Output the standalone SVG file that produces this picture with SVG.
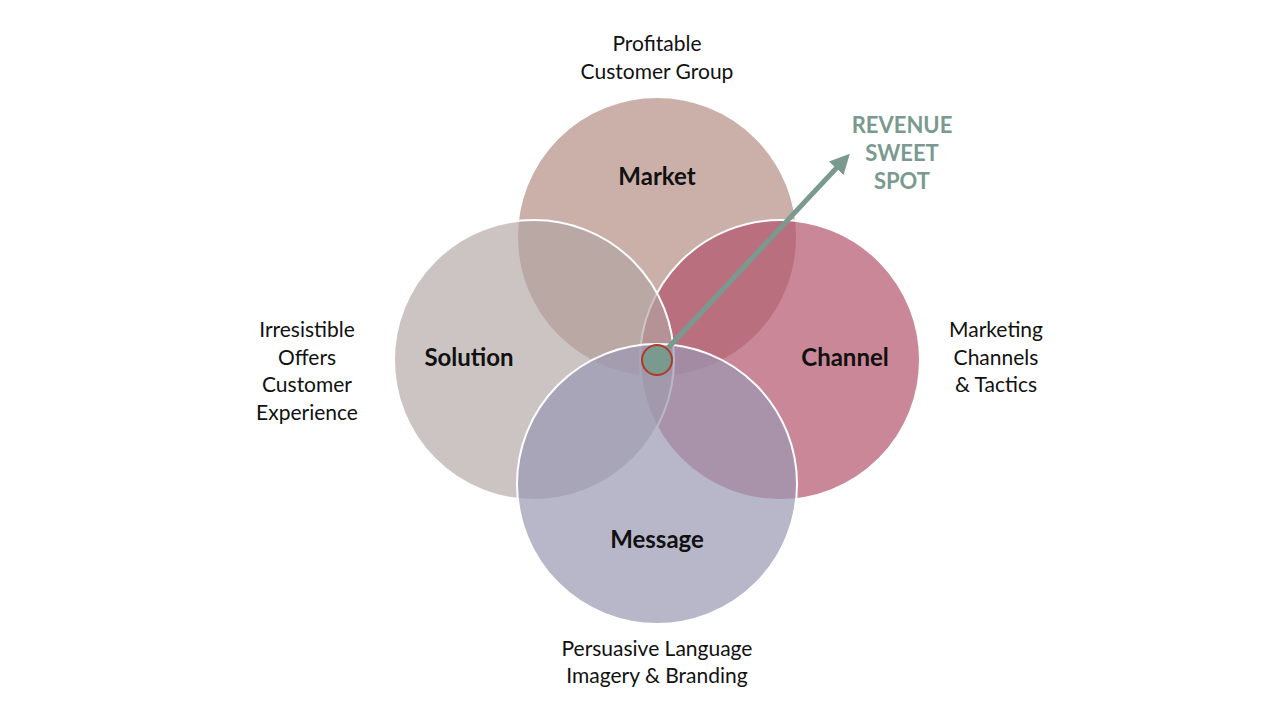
<svg xmlns="http://www.w3.org/2000/svg" width="1280" height="720" viewBox="0 0 1280 720">
<style>
.c{stroke:#fff;stroke-width:2}
.lbl{font-family:Lato,"Liberation Sans",sans-serif;font-size:24px;font-weight:bold;fill:#111;text-anchor:middle}
.d{font-family:Lato,"Liberation Sans",sans-serif;font-size:21px;fill:#111;text-anchor:middle}
.s{font-family:Lato,"Liberation Sans",sans-serif;font-size:22px;font-weight:bold;fill:#7a9a8f;text-anchor:middle}
</style>
<defs><marker id="ah" viewBox="0 0 10 10" refX="5" refY="5" markerWidth="4" markerHeight="4" orient="auto"><path d="M0,0L10,5L0,10z" fill="#7a9a8f"/></marker></defs>
<rect width="1280" height="720" fill="#fff"/>
<g id="market"><circle class="c" cx="657" cy="237" r="140" fill="#b48e84" fill-opacity="0.7"/><text class="lbl" x="657" y="185">Market</text></g>
<g id="channel"><circle class="c" cx="780" cy="360" r="140" fill="#b4546c" fill-opacity="0.7"/><text class="lbl" x="845" y="366">Channel</text></g>
<g id="solution"><circle class="c" cx="534" cy="360" r="140" fill="#b0a4a3" fill-opacity="0.65"/><text class="lbl" x="469" y="366">Solution</text></g>
<g id="message"><circle class="c" cx="657" cy="484" r="140" fill="#9a98b4" fill-opacity="0.7"/><text class="lbl" x="657" y="548">Message</text></g>
<g id="sweetspot"><circle cx="657" cy="360" r="15" fill="#7a9a8f" stroke="#b03a2a" stroke-width="2"/></g>
<g id="connectors"><line x1="668" y1="348" x2="843" y2="161" stroke="#7a9a8f" stroke-width="5" marker-end="url(#ah)"/></g>
<g id="texts">
<text class="d" x="657" y="51">Profitable</text><text class="d" x="657" y="79">Customer Group</text>
<text class="s" x="902" y="133">REVENUE</text><text class="s" x="902" y="161">SWEET</text><text class="s" x="902" y="189">SPOT</text>
<text class="d" x="307" y="337">Irresistible</text><text class="d" x="307" y="365">Offers</text><text class="d" x="307" y="392">Customer</text><text class="d" x="307" y="420">Experience</text>
<text class="d" x="996" y="337">Marketing</text><text class="d" x="996" y="365">Channels</text><text class="d" x="996" y="392">&amp; Tactics</text>
<text class="d" x="657" y="656">Persuasive Language</text><text class="d" x="657" y="683">Imagery &amp; Branding</text>
</g>
</svg>
